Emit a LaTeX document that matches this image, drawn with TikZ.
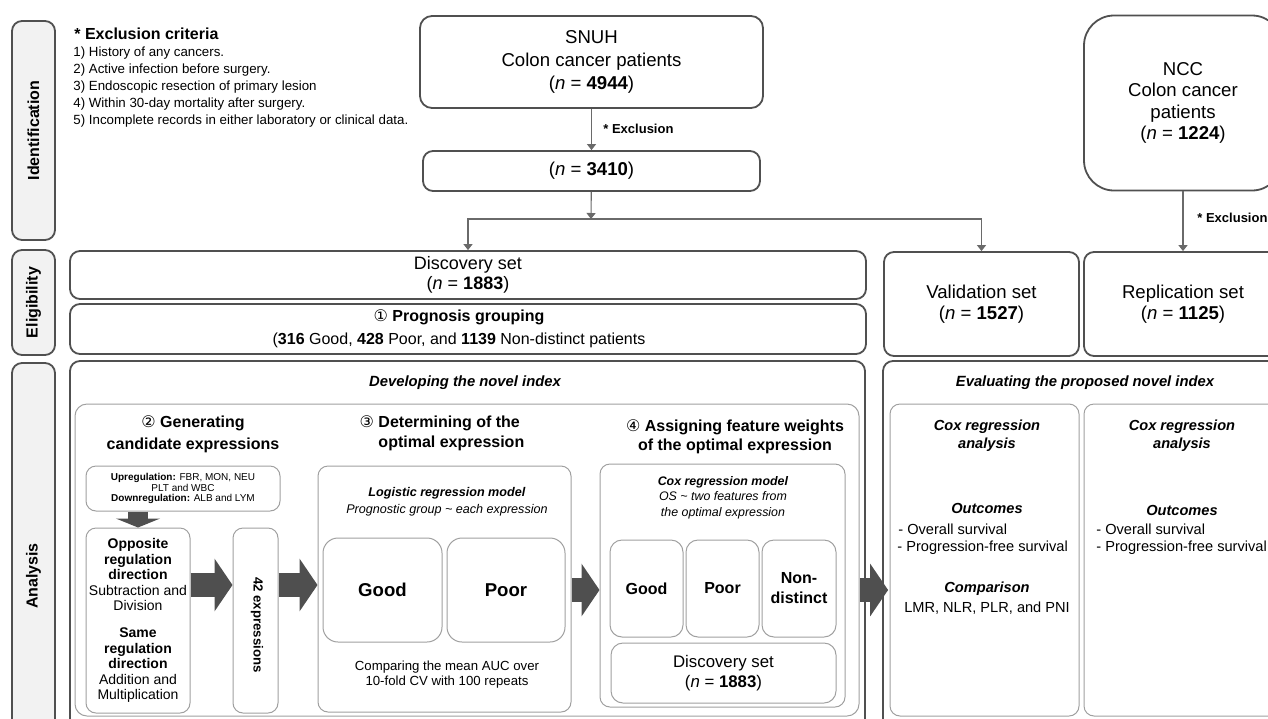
\documentclass[tikz,border=0pt]{standalone}
\usepackage{fontspec}
\setmainfont{Liberation Sans}
\newfontfamily\circfont{DejaVu Sans}
\usepackage{tikz}
\usetikzlibrary{arrows.meta,positioning}

\definecolor{rahmen}{HTML}{505050}
\definecolor{hellrahmen}{HTML}{A0A0A0}
\definecolor{reiter}{HTML}{F2F2F2}
\definecolor{pfeil}{HTML}{4F4F4F}

\newcommand{\nval}[1]{(\textit{n} = \textbf{#1})}
\newcommand{\stepno}[1]{{\circfont\mdseries #1}}
\newcommand{\sz}[2]{\fontsize{#1}{#2}\selectfont}

\tikzset{
    stagebox/.style={draw=rahmen, line width=0.9pt, rounded corners=5pt, align=center, inner sep=0pt},
    softbox/.style={draw=hellrahmen, line width=0.5pt, rounded corners=5pt, align=center, inner sep=0pt},
    tabbox/.style={draw=rahmen, fill=reiter, line width=0.9pt, rounded corners=5pt, minimum width=21.5pt},
    tablabel/.style={rotate=90, inner sep=0pt, font=\sz{8}{9}\bfseries},
    txt/.style={align=center, inner sep=0pt},
    thinarrow/.style={draw=rahmen!85, line width=0.55pt, -{Triangle[length=3pt,width=4.5pt]}},
    fatarrow/.style={draw=pfeil, line width=12pt, -{Triangle[length=9pt,width=26pt]}},
    fatarrowsmall/.style={draw=pfeil, line width=10pt, -{Triangle[length=4.5pt,width=22pt]}},
}

\begin{document}
\begin{tikzpicture}[x=0.5pt, y=-0.5pt]
    % Bildgroesse
        \useasboundingbox (0,0) rectangle (1268,718);
        \clip (0,0) rectangle (1268,718);

    % Reiter links
        \node[tabbox, minimum height=109.5pt] (tabId) at (33.5,130.5) {};
        \node[tabbox, minimum height=52.5pt] (tabElig) at (33.5,302.5) {};
        \node[tabbox, minimum height=213pt] (tabAna) at (33.5,576) {};
        \node[tablabel] (tabIdTxt) at (tabId) {Identification};
        \node[tablabel] (tabEligTxt) at (tabElig) {Eligibility};
        \node[tablabel] (tabAnaTxt) at (tabAna) {Analysis};

    % Ausschlusskriterien
        \node[anchor=west, inner sep=0pt, font=\sz{8}{9}\bfseries] (critHead) at (74,34) {* Exclusion criteria};
        \foreach \i/\crit in {1/{History of any cancers.}, 2/{Active infection before surgery.}, 3/{Endoscopic resection of primary lesion}, 4/{Within 30-day mortality after surgery.}, 5/{Incomplete records in either laboratory or clinical data.}}
            \node[anchor=west, inner sep=0pt, font=\sz{6.65}{7.5}] (crit\i) at (73,{36.5+17*\i}) {\i) \crit};

    % SNUH
        \node[stagebox, rounded corners=6pt, minimum width=171.5pt, minimum height=46pt, font=\sz{9.3}{11.5}] (snuh) at (591.5,62) {SNUH\\Colon cancer patients\\\nval{4944}};
        \node[stagebox, minimum width=168.5pt, minimum height=20pt, font=\sz{9.3}{11.5}] (snuhIn) at (591.5,171) {\nval{3410}};
        \draw[thinarrow] (snuh) -- (snuhIn);
        \node[anchor=west, inner sep=0pt, font=\sz{6.5}{8}\bfseries] (exclA) at (603,129) {* Exclusion};

    % NCC
        \node[stagebox, rounded corners=15pt, minimum width=99pt, minimum height=87.5pt, font=\sz{9.3}{10.8}] (ncc) at (1183,103) {NCC\\Colon cancer\\patients\\\nval{1224}};
        \node[anchor=west, inner sep=0pt, font=\sz{6.5}{8}\bfseries] (exclB) at (1197,218) {* Exclusion};

    % Eligibility
        \node[stagebox, minimum width=398pt, minimum height=24pt, font=\sz{9}{10}] (disc) at (468,275) {Discovery set\\\nval{1883}};
        \node[stagebox, minimum width=398pt, minimum height=25pt] (prog) at (468,329) {};
        \node[txt, font=\sz{8}{11.5}] (progTxt) at (459,329) {\textbf{\stepno{①} Prognosis grouping}\\(\textbf{316} Good, \textbf{428} Poor, and \textbf{1139} Non-distinct patients};
        \node[stagebox, minimum width=97.5pt, minimum height=52pt, font=\sz{9.3}{10.5}] (valid) at (981.5,304) {Validation set\\\nval{1527}};
        \node[stagebox, minimum width=99pt, minimum height=52pt, font=\sz{9.3}{10.5}] (repl) at (1183,304) {Replication set\\\nval{1125}};

    % Verzweigung
        \coordinate (split) at (591,219);
        \draw[thinarrow] (snuhIn) -- (split);
        \draw[thinarrow] (split) -| (disc.north);
        \draw[thinarrow] (split) -| (valid.north);
        \draw[thinarrow] (ncc) -- (repl);

    % Developing the novel index
        \node[stagebox, minimum width=397.5pt, minimum height=199.5pt] (dev) at (467.5,560.5) {};
        \node[txt, font=\sz{7.4}{9}\bfseries\itshape] (devTitle) at (465,383) {Developing the novel index};
        \node[softbox, rounded corners=6pt, minimum width=392pt, minimum height=156pt] (devIn) at (467,560) {};

    % 2. Schritt
        \node[txt, font=\sz{8}{11}\bfseries] (genHead) at (193,434) {\stepno{②} Generating\\candidate expressions};
        \node[softbox, minimum width=97pt, minimum height=22.5pt, font=\sz{5}{5.4}] (upreg) at (183,488.5) {\textbf{Upregulation:} FBR, MON, NEU\\PLT and WBC\\\textbf{Downregulation:} ALB and LYM};
        \node[softbox, minimum width=52pt, minimum height=92.5pt, font=\sz{7}{7.8}] (opp) at (138,620.5) {\textbf{Opposite}\\\textbf{regulation}\\\textbf{direction}\\Subtraction and\\Division\\[5.5pt]\textbf{Same}\\\textbf{regulation}\\\textbf{direction}\\Addition and\\Multiplication};
        \node[softbox, minimum width=22.5pt, minimum height=92.5pt] (expr) at (255.5,620.5) {};
        \node[txt, rotate=-90, font=\sz{6.6}{8}\bfseries] (exprTxt) at (257,625) {42 expressions};

    % 3. Schritt
        \node[txt, align=left, font=\sz{8}{10}\bfseries] (detHead) at (442,433) {\stepno{③} Determining of the\\\phantom{\stepno{③} }optimal expression};
        \node[softbox, minimum width=126.5pt, minimum height=123pt] (logit) at (444.5,589) {};
        \node[txt, font=\sz{6.3}{8.5}] (logitTxt) at (447,501.5) {\textbf{\textit{Logistic regression model}}\\\textit{Prognostic group \textasciitilde{} each expression}};
        \node[softbox, rounded corners=7.5pt, minimum width=59.5pt, minimum height=52pt, font=\sz{9.3}{11}\bfseries] (good3) at (382.5,590) {Good};
        \node[softbox, rounded corners=7.5pt, minimum width=59pt, minimum height=52pt, font=\sz{9.3}{11}\bfseries] (poor3) at (506,590) {Poor};
        \node[txt, font=\sz{6.6}{7.5}] (aucTxt) at (447,674.5) {Comparing the mean AUC over\\10-fold CV with 100 repeats};

    % 4. Schritt
        \node[txt, font=\sz{8}{9.5}\bfseries] (assHead) at (735,437) {\stepno{④} Assigning feature weights\\of the optimal expression};
        \node[softbox, minimum width=122.5pt, minimum height=121.5pt] (cox) at (722.5,585.5) {};
        \node[txt, font=\sz{6.2}{7.75}] (coxTxt) at (723,497.5) {\textbf{\textit{Cox regression model}}\\\textit{OS \textasciitilde{} two features from}\\\textit{the optimal expression}};
        \node[softbox, rounded corners=6pt, minimum width=36.5pt, minimum height=48.5pt, font=\sz{8}{9.5}\bfseries] (good4) at (646.5,588.5) {Good};
        \node[softbox, rounded corners=6pt, minimum width=36.5pt, minimum height=48.5pt, font=\sz{8}{9.5}\bfseries] (poor4) at (722.5,588.5) {Poor};
        \node[softbox, rounded corners=6pt, minimum width=37pt, minimum height=48.5pt, font=\sz{8}{10}\bfseries] (non4) at (799,588.5) {Non-\\distinct};
        \node[softbox, rounded corners=6pt, minimum width=112.5pt, minimum height=30pt, font=\sz{8.4}{10}] (disc4) at (723.5,673) {Discovery set\\\nval{1883}};

    % Evaluating the proposed novel index
        \node[stagebox, minimum width=199.5pt, minimum height=199.5pt] (eval) at (1082.5,560.5) {};
        \node[txt, font=\sz{7.4}{9}\bfseries\itshape] (evalTitle) at (1085,383) {Evaluating the proposed novel index};
        \node[softbox, minimum width=94.5pt, minimum height=156pt] (evalL) at (984.5,560) {};
        \node[softbox, minimum width=98pt, minimum height=156pt] (evalR) at (1182,560) {};

    % Validierung
        \node[txt, font=\sz{7.3}{9}\bfseries\itshape] (coxL) at (987,436) {Cox regression\\analysis};
        \node[txt, font=\sz{7.3}{9}\bfseries\itshape] (outL) at (987,508) {Outcomes};
        \node[anchor=west, inner sep=0pt, font=\sz{7.3}{9}] (osL) at (898,529) {- Overall survival};
        \node[anchor=west, inner sep=0pt, font=\sz{7.3}{9}] (pfsL) at (897,548) {- Progression-free survival};
        \node[txt, font=\sz{7.3}{9}\bfseries\itshape] (cmpL) at (987,589) {Comparison};
        \node[txt, font=\sz{7.3}{9}] (cmpTxt) at (987,608) {LMR, NLR, PLR, and PNI};

    % Replikation
        \node[txt, font=\sz{7.3}{9}\bfseries\itshape] (coxR) at (1182,436) {Cox regression\\analysis};
        \node[txt, font=\sz{7.3}{9}\bfseries\itshape] (outR) at (1182,510) {Outcomes};
        \node[anchor=west, inner sep=0pt, font=\sz{7.3}{9}] (osR) at (1096,529) {- Overall survival};
        \node[anchor=west, inner sep=0pt, font=\sz{7.3}{9}] (pfsR) at (1096,548) {- Progression-free survival};

    % Blockpfeile
        \coordinate (rowA) at (0,585);
        \coordinate (rowB) at (0,590);
        \draw[fatarrowsmall] (opp.north |- upreg.south) -- (opp.north);
        \draw[fatarrow] (opp.east |- rowA) -- (expr.west |- rowA);
        \draw[fatarrow] (expr.east |- rowA) -- (logit.west |- rowA);
        \draw[fatarrow] (logit.east |- rowB) -- (cox.west |- rowB);
        \draw[fatarrow, shorten <=-3pt, shorten >=-3pt] (dev.east |- rowB) -- (eval.west |- rowB);
\end{tikzpicture}
\end{document}
